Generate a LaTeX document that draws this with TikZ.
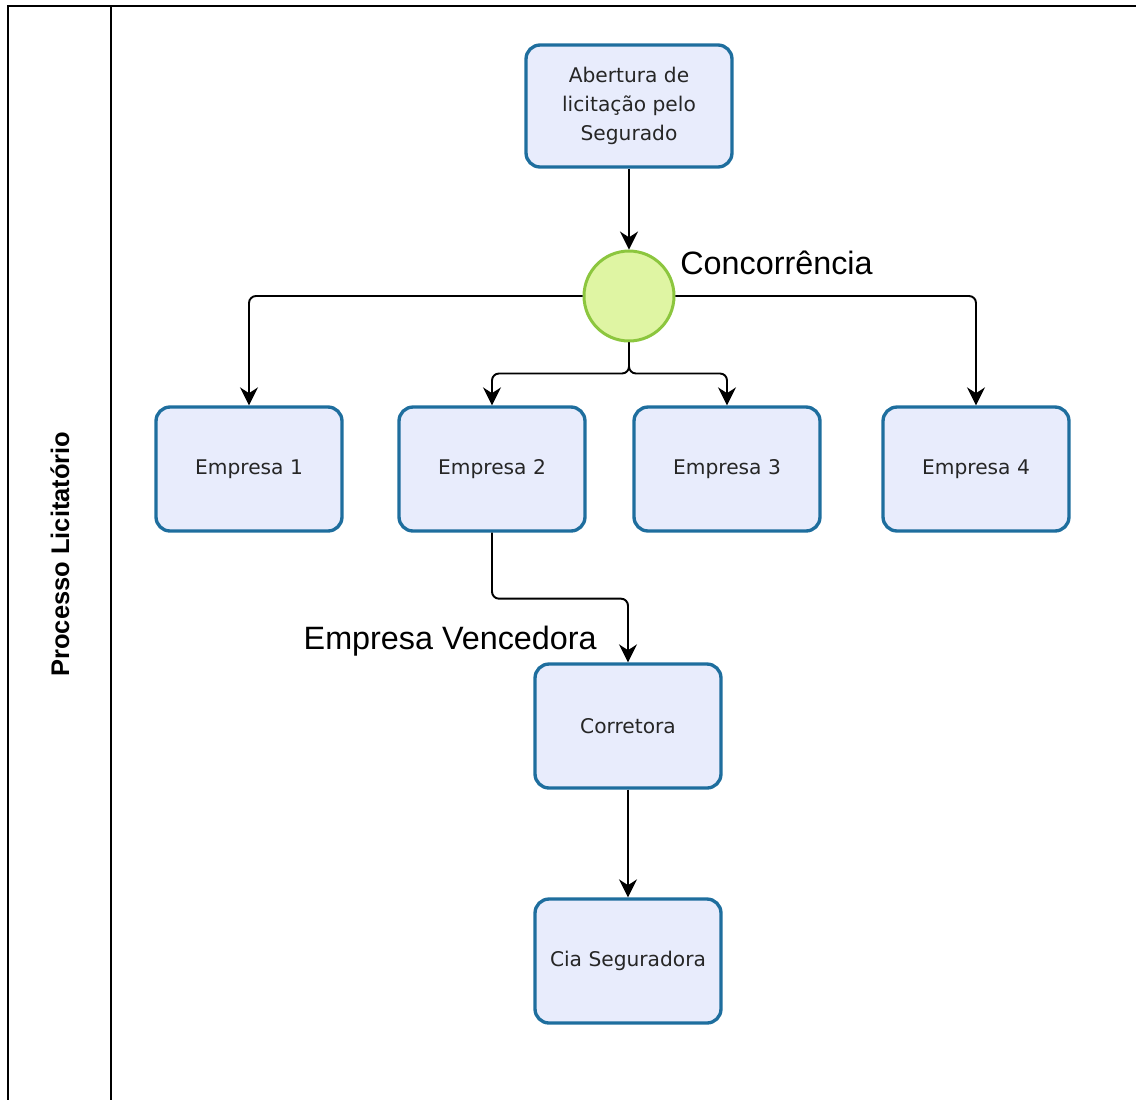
\documentclass[tikz,border=0pt]{standalone}
\usepackage{fontspec}
\setmainfont{DejaVu Sans}
\newfontfamily\arial{Liberation Sans}
\usetikzlibrary{arrows.meta}
\definecolor{boxfill}{HTML}{E8ECFC}
\definecolor{boxline}{HTML}{1E6E9E}
\definecolor{gwfill}{HTML}{DFF5A3}
\definecolor{gwline}{HTML}{8CC63E}
\tikzset{
  >={Stealth[length=3.6mm,width=3.6mm]},
  task/.style={draw=boxline,fill=boxfill,line width=1.9pt,rounded corners=2.8mm,minimum width=3.72cm,minimum height=2.48cm,align=center,text=black!85,font=\fontsize{11.5}{16.5}\selectfont},
  gw/.style={circle,draw=gwline,fill=gwfill,line width=1.7pt,minimum size=1.8cm,inner sep=0pt},
  lbl/.style={font=\arial\fontsize{18.4}{21}\selectfont,inner sep=0pt},
  flow/.style={->,line width=1.1pt,rounded corners=1.4mm},
  pool/.style={line width=1.3pt},
}
\begin{document}
\begin{tikzpicture}[x=0.02cm,y=-0.02cm]
\useasboundingbox (0,0) rectangle (1136,1100);
% pool and lane
\draw[pool] (1136,6) -- (8,6) -- (8,1100);
\draw[pool] (111,6) -- (111,1100);
\node[rotate=90,font=\arial\bfseries\fontsize{14.5}{16}\selectfont] (pl) at (60,554) {Processo Licitatório};
% tasks
\node[task,minimum width=4.12cm,minimum height=2.44cm] (ab) at (629,106) {Abertura de\\licitação pelo\\Segurado};
\node[gw] (cc) at (629,296) {};
\foreach \n/\x/\t in {e1/249/Empresa 1,e2/492/Empresa 2,e3/727/Empresa 3,e4/976/Empresa 4}{\node[task] (\n) at (\x,469) {\t};}
\node[task] (co) at (628,726) {Corretora};
\node[task] (cs) at (628,961) {Cia Seguradora};
\node[lbl,anchor=west] (lc) at (680,263) {Concorrência};
\node[lbl,anchor=east] (lv) at (597,641) {Empresa Vencedora};
% flows
\draw[flow] (ab) -- (cc);
\draw[flow] (cc.west) -| (e1);
\draw[flow] (cc.east) -| (e4);
\draw[flow] (cc.south) -- ++(0,31) -| (e2);
\draw[flow] (cc.south) -- ++(0,31) -| (e3);
\draw[flow] (e2.south) -- ++(0,66) -| (co.north);
\draw[flow] (co) -- (cs);
\end{tikzpicture}
\end{document}
